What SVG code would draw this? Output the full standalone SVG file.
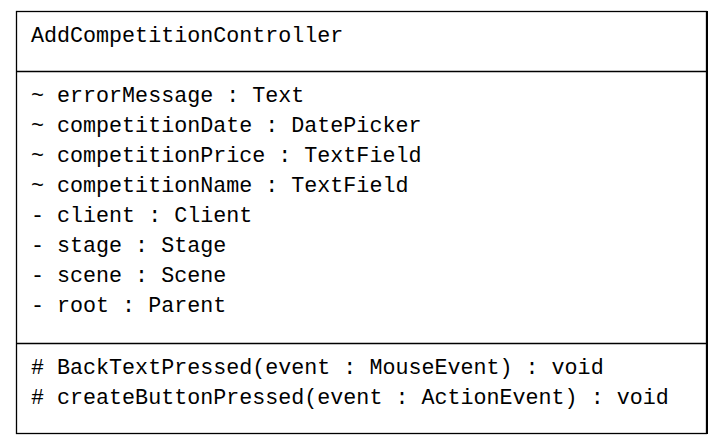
<svg xmlns="http://www.w3.org/2000/svg" width="723" height="446" viewBox="0 0 723 446">
  <style>
    .box { fill: #ffffff; stroke: #000000; stroke-width: 1.3; }
    .sep { stroke: #000000; stroke-width: 1.3; }
    .t { font-family: "Liberation Mono", "Courier New", monospace; font-size: 21.7px; fill: #000000; }
  </style>
  <rect width="723" height="446" fill="#ffffff"/>
  <g id="AddCompetitionController">
    <rect class="box" x="16.5" y="11.5" width="690" height="422"/>
    <line x1="707" y1="11" x2="707" y2="434" stroke="#000000" stroke-width="2"/>
    <line class="sep" x1="16.5" y1="71.5" x2="707" y2="71.5"/>
    <line class="sep" x1="16.5" y1="343.5" x2="707" y2="343.5"/>
    <text class="t" x="31" y="42">AddCompetitionController</text>
    <text class="t" x="31" y="102">~ errorMessage : Text</text>
    <text class="t" x="31" y="132">~ competitionDate : DatePicker</text>
    <text class="t" x="31" y="162">~ competitionPrice : TextField</text>
    <text class="t" x="31" y="192">~ competitionName : TextField</text>
    <text class="t" x="31" y="222">- client : Client</text>
    <text class="t" x="31" y="252">- stage : Stage</text>
    <text class="t" x="31" y="282">- scene : Scene</text>
    <text class="t" x="31" y="312">- root : Parent</text>
    <text class="t" x="31" y="374"># BackTextPressed(event : MouseEvent) : void</text>
    <text class="t" x="31" y="404"># createButtonPressed(event : ActionEvent) : void</text>
  </g>
</svg>
